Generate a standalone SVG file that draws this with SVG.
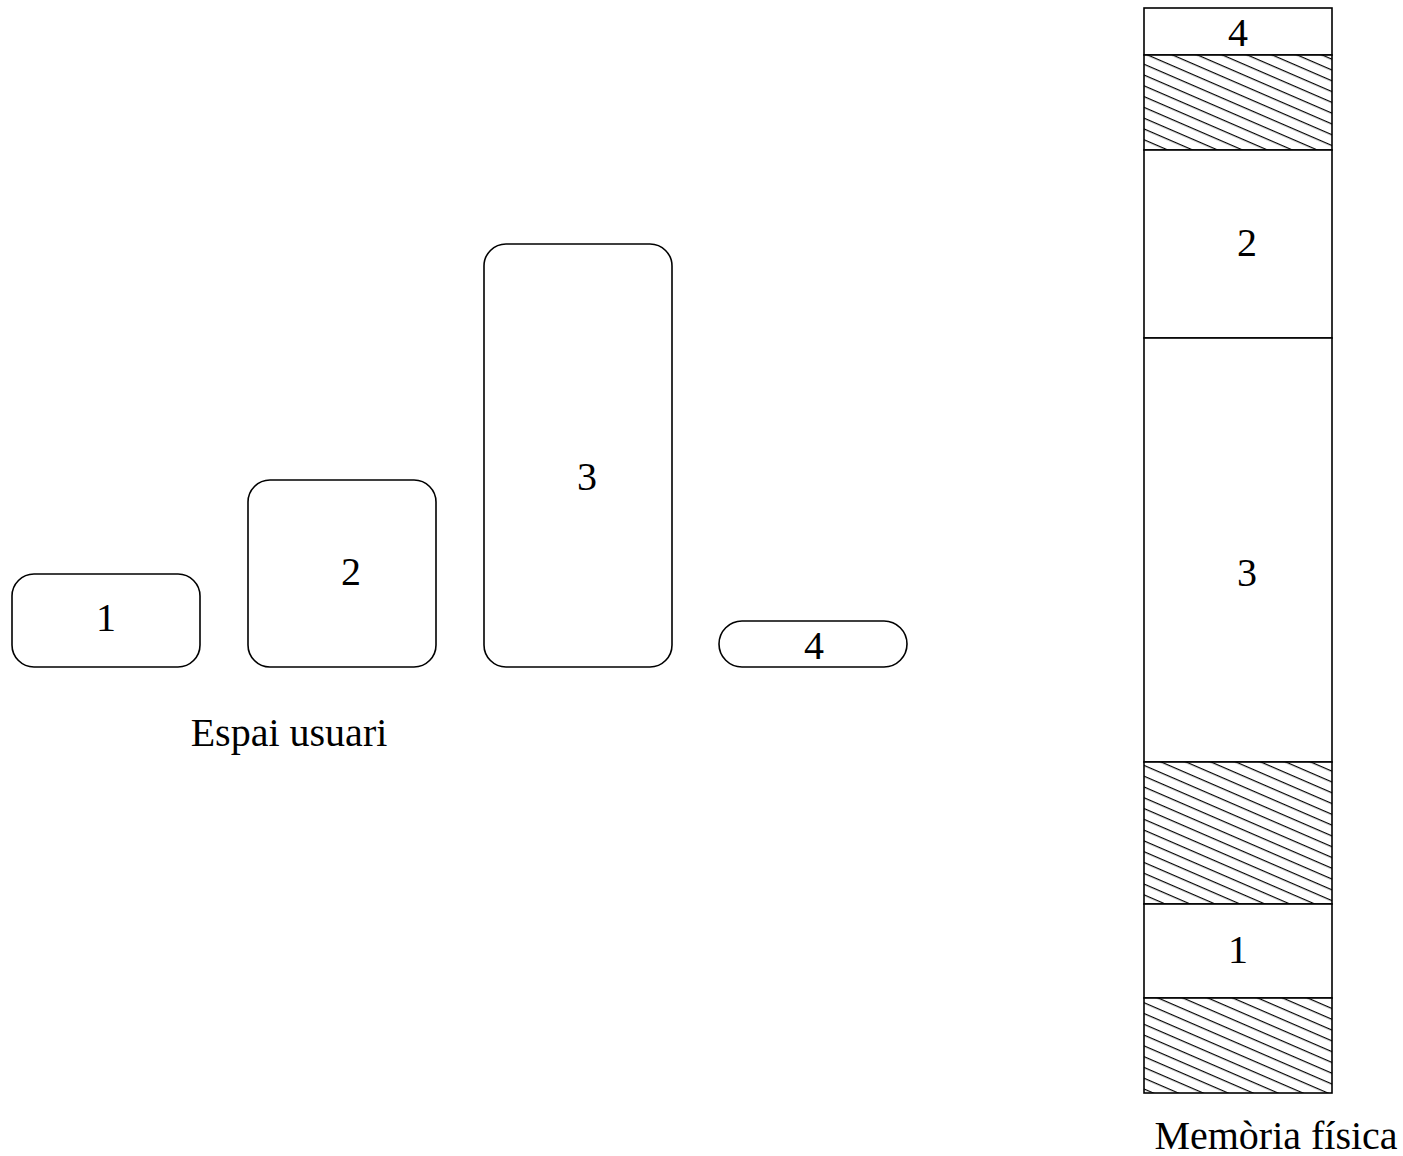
<svg xmlns="http://www.w3.org/2000/svg" width="1403" height="1156" viewBox="0 0 1403 1156">
  <style>
    .box { fill: #ffffff; stroke: #000000; stroke-width: 1.6; }
    .seg { fill: #ffffff; stroke: #000000; stroke-width: 1.6; }
    .hatch { fill: url(#hatch); stroke: #000000; stroke-width: 1.6; }
    .lbl { font-family: "Liberation Serif", "Times New Roman", serif; font-size: 40px; fill: #000000; text-anchor: middle; }
  </style>
  <defs>
    <pattern id="hatch" patternUnits="userSpaceOnUse" width="20" height="9.9" patternTransform="rotate(23.4)">
      <rect width="20" height="9.9" fill="#ffffff"/>
      <line x1="0" y1="0.6" x2="20" y2="0.6" stroke="#000000" stroke-width="1.2"/>
    </pattern>
  </defs>

  <!-- user space segments -->
  <g id="seg-1">
    <rect class="box" x="12" y="574" width="188" height="93" rx="22" ry="22"/>
    <text class="lbl" x="106" y="631">1</text>
  </g>
  <g id="seg-2">
    <rect class="box" x="248" y="480" width="188" height="187" rx="22" ry="22"/>
    <text class="lbl" x="351" y="585">2</text>
  </g>
  <g id="seg-3">
    <rect class="box" x="484" y="244" width="188" height="423" rx="22" ry="22"/>
    <text class="lbl" x="587" y="490">3</text>
  </g>
  <g id="seg-4">
    <rect class="box" x="719" y="621" width="188" height="46" rx="23" ry="23"/>
    <text class="lbl" x="814" y="659">4</text>
  </g>
  <text id="label-user" class="lbl" x="289" y="746">Espai usuari</text>

  <!-- physical memory column -->
  <g id="physical-memory">
    <g id="mem-4">
      <rect class="seg" x="1144" y="8" width="188" height="47"/>
      <text class="lbl" x="1238" y="46">4</text>
    </g>
    <rect id="free-a" class="hatch" x="1144" y="55" width="188" height="95"/>
    <g id="mem-2">
      <rect class="seg" x="1144" y="150" width="188" height="188"/>
      <text class="lbl" x="1247" y="256">2</text>
    </g>
    <g id="mem-3">
      <rect class="seg" x="1144" y="338" width="188" height="424"/>
      <text class="lbl" x="1247" y="586">3</text>
    </g>
    <rect id="free-b" class="hatch" x="1144" y="762" width="188" height="142"/>
    <g id="mem-1">
      <rect class="seg" x="1144" y="904" width="188" height="94"/>
      <text class="lbl" x="1238" y="963">1</text>
    </g>
    <rect id="free-c" class="hatch" x="1144" y="998" width="188" height="95"/>
  </g>
  <text id="label-phys" class="lbl" x="1276" y="1149">Memòria física</text>

  <g id="connectors"></g>
</svg>
